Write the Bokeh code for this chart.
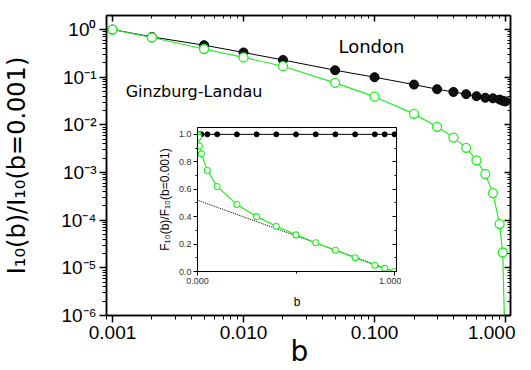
from bokeh.plotting import figure
from bokeh.models import (FixedTicker, LogAxis, LinearAxis, Label, Range1d,
                          CustomJSTickFormatter)
from bokeh.layouts import column
from bokeh.embed import file_html
from bokeh.resources import INLINE

# ---------------- data ----------------
b = [0.001, 0.002, 0.005, 0.01, 0.02, 0.05, 0.1, 0.2, 0.3, 0.4, 0.5,
     0.6, 0.7, 0.8, 0.9, 0.95, 1.0]
i_london = [1.0, 0.70, 0.47, 0.33, 0.23, 0.14, 0.10, 0.070, 0.056, 0.049,
            0.044, 0.040, 0.037, 0.036, 0.034, 0.032, 0.031]
i_gl = [1.0, 0.68, 0.39, 0.26, 0.17, 0.076, 0.039, 0.017, 0.0091, 0.0054,
        0.0033, 0.0018, 0.00093, 0.00037, 8.3e-5, 2.1e-5, 1e-7]

f_london = [1.0, 1.0, 1.0, 1.0, 1.0, 1.0, 1.0, 1.0, 1.0, 1.0, 1.0,
            1.0, 1.0, 1.0, 1.0, 1.0, 1.0]
f_gl = [1.0, 0.995, 0.98, 0.915, 0.858, 0.737, 0.62, 0.488, 0.40, 0.33,
        0.267, 0.21, 0.155, 0.10, 0.046, 0.023, 0.0]
fit_b = [0.0, 1.0]
fit_f = [0.52, 0.0]

y_major = [1e-6, 1e-5, 1e-4, 1e-3, 1e-2, 1e-1, 1.0]
x_major = [0.001, 0.01, 0.1, 1.0]
decades = [1e-7, 1e-6, 1e-5, 1e-4, 1e-3, 1e-2, 1e-1, 1.0]
mults = [2, 3, 4, 5, 6, 7, 8, 9]
minor = [m * d for d in decades for m in mults]

GREEN = "#22ee22"
TICK_FONT = "Liberation Sans"
LABEL_FONT = "DejaVu Sans"

sup_js = """
const sup = {"-":"\\u207b","0":"\\u2070","1":"\\u00b9","2":"\\u00b2","3":"\\u00b3",
             "4":"\\u2074","5":"\\u2075","6":"\\u2076","7":"\\u2077","8":"\\u2078","9":"\\u2079"};
const e = Math.round(Math.log10(tick));
return "10" + String(e).split("").map(c => sup[c]).join("");
"""
blank_js = "return '';"

# ---------------- main figure ----------------
p = figure(width=515, height=354, x_axis_type="log", y_axis_type="log",
           x_range=Range1d(0.0009, 1.09), y_range=Range1d(1e-6, 1.97),
           output_backend="svg", toolbar_location=None,
           min_border_left=106, min_border_right=5, min_border_top=15,
           min_border_bottom=39)
p.grid.visible = False
p.outline_line_color = "black"
p.outline_line_width = 1.5

xt = FixedTicker(ticks=x_major, minor_ticks=minor)
yt = FixedTicker(ticks=y_major, minor_ticks=minor)

xa = p.xaxis[0]
xa.ticker = xt
xa.formatter = CustomJSTickFormatter(code="return tick.toFixed(3);")
ya = p.yaxis[0]
ya.ticker = yt
ya.formatter = CustomJSTickFormatter(code=sup_js)
for ax in (xa, ya):
    ax.major_label_text_font = TICK_FONT
    ax.major_label_text_font_size = "19px"
    ax.major_label_text_color = "black"
    ax.axis_line_width = 1.5
    ax.major_tick_line_width = 1.5
    ax.major_tick_out = 7
    ax.major_tick_in = 0
    ax.minor_tick_out = 4
    ax.minor_tick_in = 0
    ax.major_label_standoff = 3
ya.axis_label = "I\u2081\u2080(b)/I\u2081\u2080(b=0.001)"
ya.axis_label_text_font = LABEL_FONT
ya.axis_label_text_font_size = "24px"
ya.axis_label_text_font_style = "normal"
ya.axis_label_text_color = "black"
ya.axis_label_standoff = 27

right = LogAxis(ticker=yt, formatter=CustomJSTickFormatter(code=blank_js),
                major_tick_in=6, major_tick_out=0, minor_tick_in=3,
                minor_tick_out=0, major_label_standoff=0,
                axis_line_width=1.5, major_tick_line_width=1.5)
top = LogAxis(ticker=xt, formatter=CustomJSTickFormatter(code=blank_js),
              major_tick_in=6, major_tick_out=0, minor_tick_in=3,
              minor_tick_out=0, major_label_standoff=0,
              axis_line_width=1.5, major_tick_line_width=1.5)
p.add_layout(right, "right")
p.add_layout(top, "above")

p.line(b, i_london, line_color="black", line_width=1)
p.scatter(b, i_london, size=9, fill_color="#111111", line_color="black")
p.line(b, i_gl, line_color=GREEN, line_width=1.2)
p.scatter(b, i_gl, size=9, fill_color="white", line_color=GREEN, line_width=1.3)

p.add_layout(Label(x=0.053, y=0.44, text="London", text_font=LABEL_FONT,
                   text_font_size="18px", text_baseline="middle",
                   text_align="left", text_color="black"))
p.add_layout(Label(x=0.00126, y=0.050, text="Ginzburg-Landau",
                   text_font=LABEL_FONT, text_font_size="16px",
                   text_baseline="middle", text_align="left",
                   text_color="black"))

# ---------------- x-axis title "b" (own small canvas) ----------------
bfig = figure(width=40, height=38, x_range=Range1d(0, 1), y_range=Range1d(0, 1),
              output_backend="svg", toolbar_location=None, min_border=0,
              x_axis_location=None, y_axis_location=None, frame_align=False,
              styles={"position": "absolute", "left": "279px", "top": "330px"})
bfig.grid.visible = False
bfig.outline_line_color = None
bfig.background_fill_alpha = 0
bfig.border_fill_alpha = 0
bfig.add_layout(Label(x=0.5, y=0.02, text="b", text_font=LABEL_FONT,
                      text_font_size="28px", text_baseline="bottom",
                      text_align="center", text_color="black"))

# ---------------- inset ----------------
inset = figure(width=248, height=188, x_range=Range1d(0, 1.01),
               y_range=Range1d(0, 1.05), output_backend="svg",
               toolbar_location=None, min_border_left=44, min_border_right=5,
               min_border_top=4, min_border_bottom=34, frame_align=False,
               styles={"position": "absolute", "left": "153px", "top": "123px"})
inset.grid.visible = False
inset.outline_line_color = "black"
inset.outline_line_width = 1
inset.border_fill_alpha = 0

ixt = FixedTicker(ticks=[0.0, 1.0], minor_ticks=[0.5])
iyt = FixedTicker(ticks=[0.0, 0.2, 0.4, 0.6, 0.8, 1.0],
                  minor_ticks=[0.1, 0.3, 0.5, 0.7, 0.9])
ixa = inset.xaxis[0]
ixa.ticker = ixt
ixa.formatter = CustomJSTickFormatter(code="return tick.toFixed(3);")
iya = inset.yaxis[0]
iya.ticker = iyt
iya.formatter = CustomJSTickFormatter(code="return tick.toFixed(1);")
for ax in (ixa, iya):
    ax.major_label_text_font = TICK_FONT
    ax.major_label_text_font_size = "9px"
    ax.major_label_text_color = "#333333"
    ax.major_tick_out = 4
    ax.major_tick_in = 0
    ax.minor_tick_out = 2
    ax.minor_tick_in = 0
    ax.major_label_standoff = 2
    ax.axis_label_text_font = TICK_FONT
    ax.axis_label_text_font_style = "normal"
    ax.axis_label_text_font_size = "12px"
    ax.axis_label_text_color = "black"
ixa.axis_label = "b"
ixa.axis_label_standoff = 8
iya.axis_label = "F\u2081\u2080(b)/F\u2081\u2080(b=0.001)"
iya.axis_label_standoff = 4

iright = LinearAxis(ticker=iyt, formatter=CustomJSTickFormatter(code=blank_js),
                    major_tick_in=4, major_tick_out=0,
                    minor_tick_in=2, minor_tick_out=0, major_label_standoff=0)
inset.add_layout(iright, "right")

inset.line(fit_b, fit_f, line_color="black", line_dash="1 1", line_width=1)
inset.line(b, f_london, line_color="black", line_width=1)
inset.scatter(b, f_london, size=5, fill_color="black", line_color="black")
inset.line(b, f_gl, line_color=GREEN, line_width=1.2)
inset.scatter(b, f_gl, size=6, fill_color="white", line_color=GREEN,
              line_width=1.1)

layout = column(p, inset, bfig, styles={"position": "relative"})
open("out.html", "w").write(file_html(layout, INLINE))
